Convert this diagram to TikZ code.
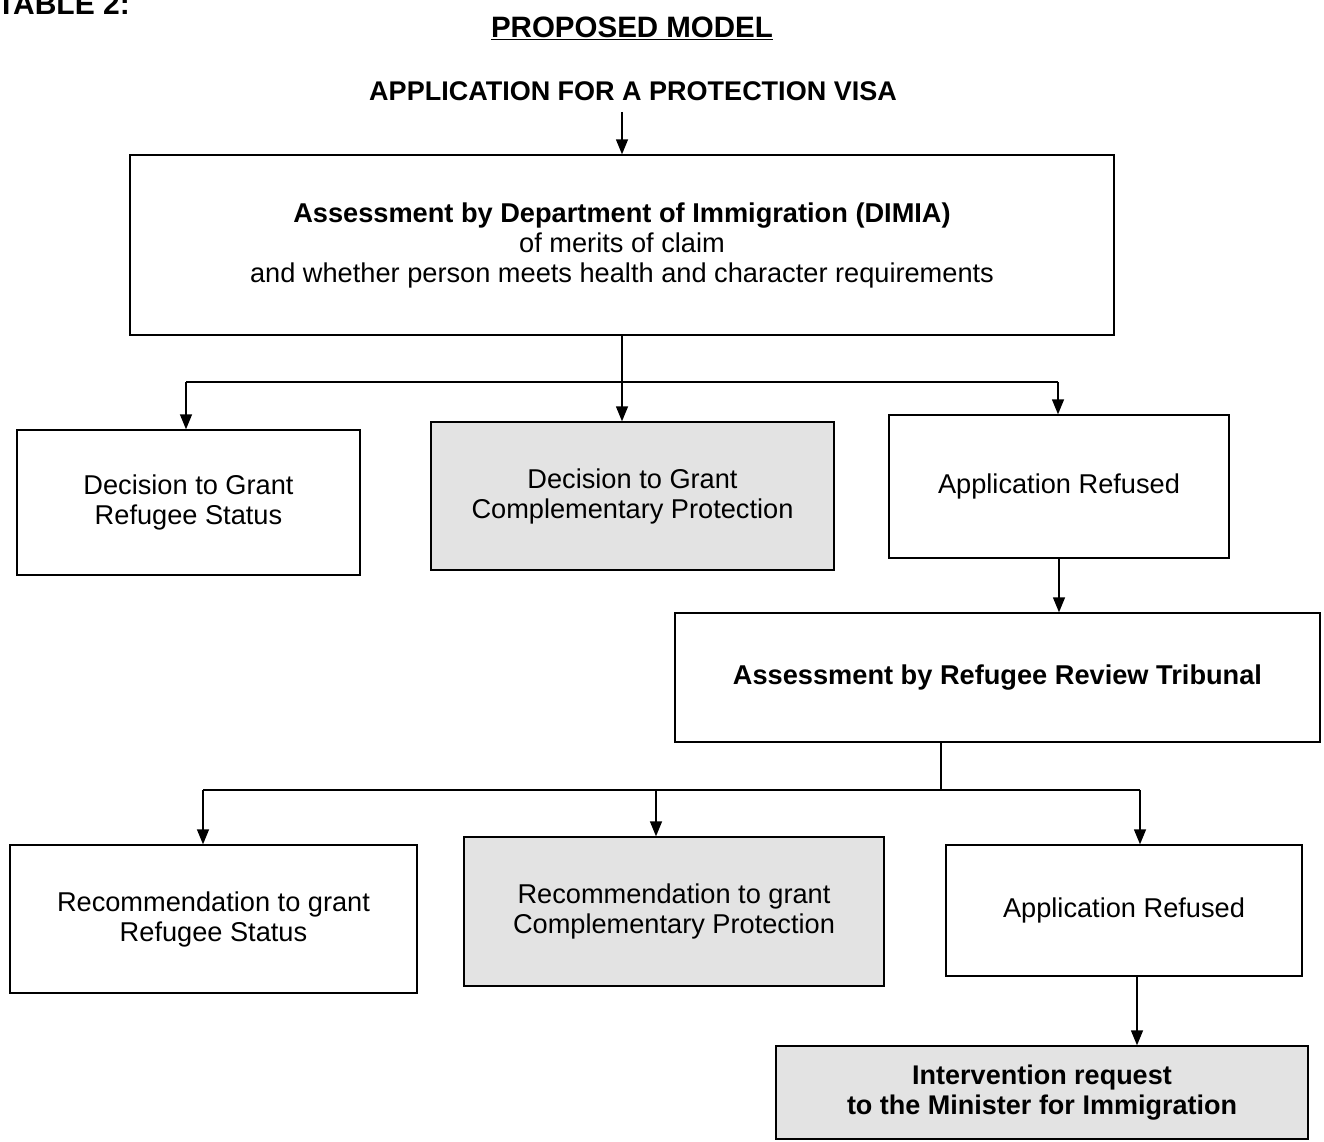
\documentclass[tikz,border=0pt]{standalone}
\usepackage{fontspec}
\setmainfont{Liberation Sans}
\usetikzlibrary{arrows.meta}
\begin{document}
\begin{tikzpicture}[x=1pt,y=-1pt,
  box/.style={draw, line width=1.4pt, align=center, font=\fontsize{27.2}{30}\selectfont, inner sep=0pt},
  shaded/.style={box, fill=gray!22},
  conn/.style={line width=1.4pt},
  arr/.style={line width=1.4pt, -{Triangle[length=15pt,width=12pt]}}]
\clip (0,0) rectangle (1324,1141);
\fill[white] (0,0) rectangle (1324,1141);
% headings
\node[anchor=base east, font=\fontsize{30}{32}\selectfont\bfseries, inner sep=0pt] (tab) at (130,14) {TABLE 2:};
\node[font=\fontsize{29.5}{32}\selectfont\bfseries] (title) at (632,28) {\underline{PROPOSED MODEL}};
\node[font=\fontsize{27}{30}\selectfont\bfseries, inner ysep=11pt] (app) at (633,91) {APPLICATION FOR A PROTECTION VISA};
% boxes
\node[box, minimum width=984, minimum height=180] (b1) at (622,245)
  {\textbf{Assessment by Department of Immigration (DIMIA)}\\of merits of claim\\and whether person meets health and character requirements};
\node[box, minimum width=343, minimum height=145] (l1) at (188.5,502.5) {Decision to Grant\\Refugee Status};
\node[shaded, minimum width=403, minimum height=148] (m1) at (632.5,496) {Decision to Grant\\Complementary Protection};
\node[box, minimum width=340, minimum height=143] (r1) at (1059,486.5) {Application Refused};
\node[box, minimum width=645, minimum height=129] (rrt) at (997.5,677.5) {\textbf{Assessment by Refugee Review Tribunal}};
\node[box, minimum width=407, minimum height=148] (l2) at (213.5,919) {Recommendation to grant\\Refugee Status};
\node[shaded, minimum width=420, minimum height=149] (m2) at (674,911.5) {Recommendation to grant\\Complementary Protection};
\node[box, minimum width=356, minimum height=131] (r2) at (1124,910.5) {Application Refused};
\node[shaded, minimum width=532, minimum height=93, font=\fontsize{27}{30}\selectfont\bfseries] (iv) at (1042,1092.5) {Intervention request\\to the Minister for Immigration};
% connectors
\draw[arr] (app.south -| b1.north) -- (b1.north);
\coordinate (j1) at (622,382);
\coordinate (j1l) at (186,382);
\coordinate (j1r) at (1058,382);
\draw[conn] (b1.south) -- (j1);
\draw[conn] (j1l) -- (j1r);
\draw[arr] (j1l) -- (j1l |- l1.north);
\draw[arr] (j1) -- (j1 |- m1.north);
\draw[arr] (j1r) -- (j1r |- r1.north);
\draw[arr] (r1.south) -- (r1.south |- rrt.north);
\coordinate (j2) at (941,790);
\coordinate (j2l) at (203,790);
\coordinate (j2m) at (656,790);
\coordinate (j2r) at (1140,790);
\draw[conn] (j2 |- rrt.south) -- (j2);
\draw[conn] (j2l) -- (j2r);
\draw[arr] (j2l) -- (j2l |- l2.north);
\draw[arr] (j2m) -- (j2m |- m2.north);
\draw[arr] (j2r) -- (j2r |- r2.north);
\coordinate (k) at (1137,976);
\draw[arr] (k |- r2.south) -- (k |- iv.north);
\end{tikzpicture}
\end{document}
